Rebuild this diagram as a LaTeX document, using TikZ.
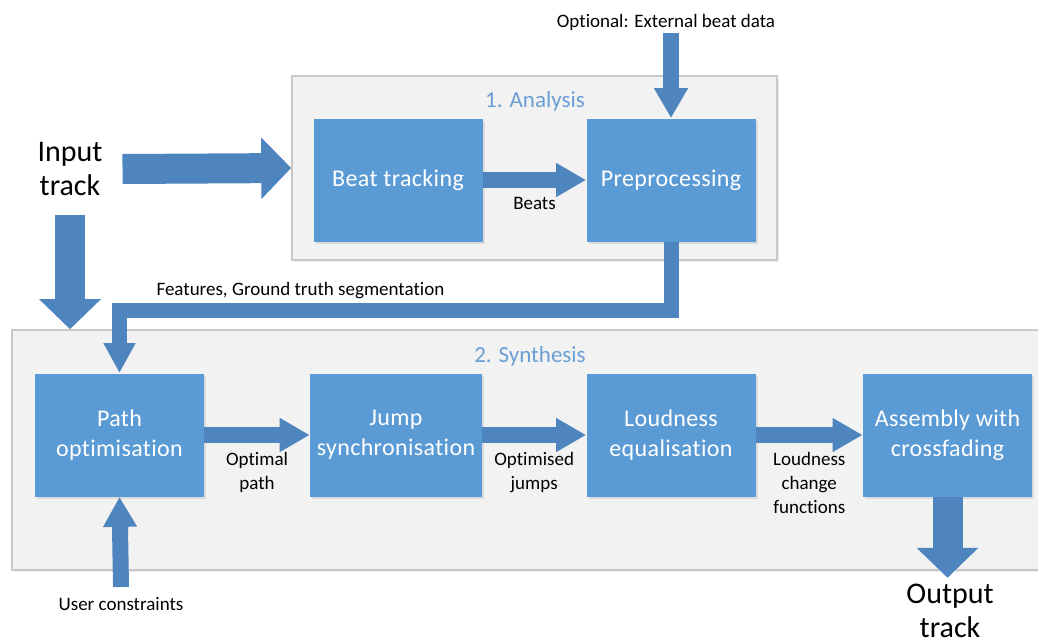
\documentclass[tikz,border=0pt]{standalone}
\usepackage{fontspec}
\setmainfont[Ligatures=NoCommon]{Carlito}
\usetikzlibrary{positioning,arrows.meta,shadows}
\definecolor{boxblue}{HTML}{5B9BD5}
\definecolor{arrowblue}{HTML}{4E85BE}
\definecolor{groupgray}{HTML}{F2F2F2}
\definecolor{groupline}{HTML}{C8C8C8}
\definecolor{titleblue}{HTML}{6A9FD6}

\begin{document}
\begin{tikzpicture}[x=0.5pt, y=-0.5pt,
  group/.style={draw=groupline, fill=groupgray, line width=0.8pt, drop shadow={shadow xshift=0.8pt, shadow yshift=-0.8pt, opacity=0.15}},
  block/.style={fill=boxblue, text=white, minimum width=84.5pt, minimum height=61.5pt, align=center, font=\fontsize{12}{15}\selectfont\addfontfeature{LetterSpace=1.5}, drop shadow={shadow xshift=1pt, shadow yshift=-1pt, opacity=0.2}},
  title/.style={text=titleblue, font=\fontsize{11.5}{14}\selectfont},
  lbl/.style={align=center, font=\fontsize{9.5}{12}\selectfont, inner sep=1pt},
  bigtext/.style={align=center, font=\fontsize{15}{17}\selectfont},
  fatarrow/.style={draw=arrowblue, line width=15pt, -{Triangle[width=30pt, length=15pt]}},
  flow/.style={draw=arrowblue, line width=8pt, -{Triangle[width=16pt, length=15pt]}},
  bar/.style={draw=arrowblue, line width=7.5pt, line join=miter, -{Triangle[width=15pt, length=15pt]}}]
  \useasboundingbox (0,0) rectangle (1038,643);

  % groups
  \node[group, minimum width=242.5pt, minimum height=92pt] (ana) at (534.5,168) {};
  \node[title] (anat) at (535,101) {1. Analysis};
  \node[group, minimum width=514pt, minimum height=120pt] (syn) at (526,450) {};
  \node[title] (synt) at (530,356) {2. Synthesis};

  % blocks
  \node[block] (beat) at (398,180) {Beat tracking};
  \node[block] (pre) at (671,180) {Preprocessing};
  \node[block] (path) at (119.5,435) {Path\\optimisation};
  \node[block] (jump) at (396,435) {Jump\\synchronisation};
  \node[block] (loud) at (671,435) {Loudness\\equalisation};
  \node[block] (asm) at (947.5,435) {Assembly with\\crossfading};

  % outer texts
  \node[bigtext] (inp) at (70,169) {Input\\track};
  \node[bigtext] (outp) at (950,611) {Output\\track};
  \node[lbl] (ext) at (666,22) {Optional: External beat data};
  \node[lbl] (user) at (121,604) {User constraints};
  \coordinate (fl) at (119.5,310);

  % connectors
  \draw[fatarrow] ([xshift=6.5pt]inp.east) -- (ana.west);
  \draw[fatarrow] ([yshift=-6pt]inp.south) -- (inp.south |- syn.north);
  \draw[flow] (ext.south -| pre.north) -- (pre.north);
  \draw[flow] (beat) -- (pre) node[lbl, midway, below=3.5pt] {Beats};
  \draw[bar] (pre.south) |- (fl) node[lbl, pos=0.836, above=1pt] {Features, Ground truth segmentation} -- (path.north);
  \draw[flow] (path) -- (jump) node[lbl, midway, below=3.5pt] {Optimal\\path};
  \draw[flow] (jump) -- (loud) node[lbl, midway, below=3.5pt] {Optimised\\jumps};
  \draw[flow] (loud) -- (asm) node[lbl, midway, below=3.5pt] {Loudness\\change\\functions};
  \draw[flow] ([yshift=4pt]user.north) -- (path.south);
  \draw[fatarrow] (asm.south) -- ([yshift=-3.5pt]asm.south |- syn.south);
\end{tikzpicture}
\end{document}
